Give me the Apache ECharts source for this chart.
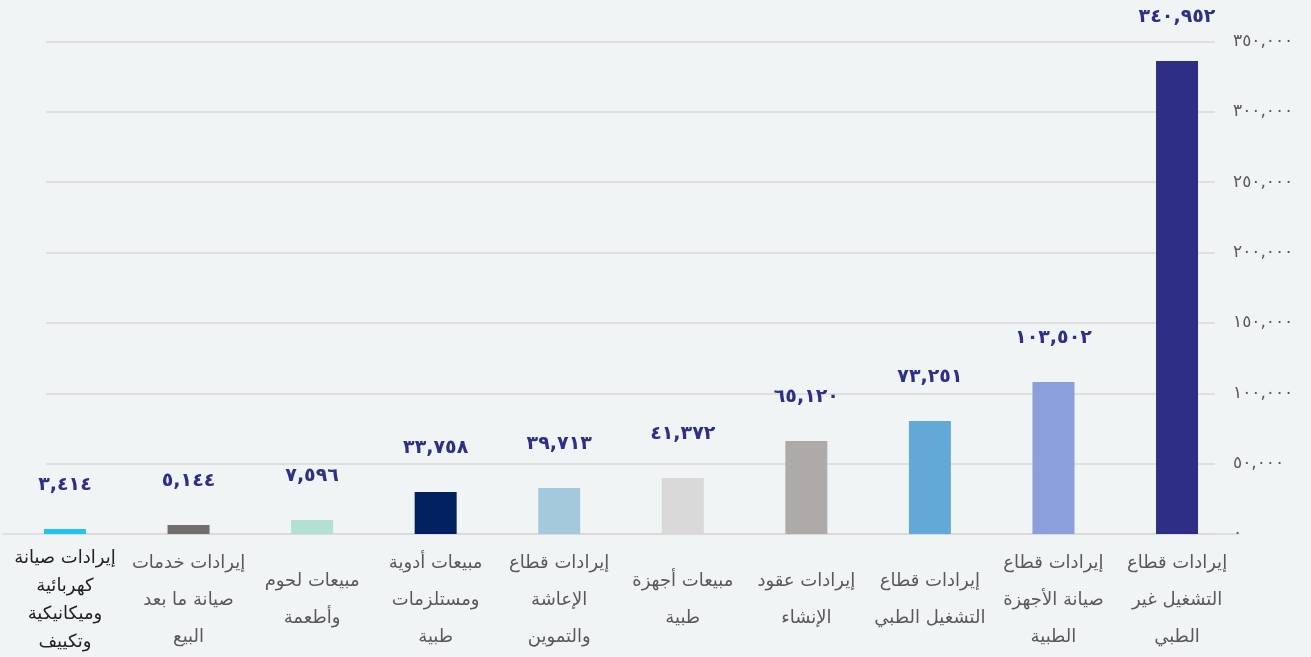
<!DOCTYPE html>
<html lang="ar">
<head>
<meta charset="utf-8">
<script src="https://cdn.jsdelivr.net/npm/echarts@6/dist/echarts.min.js"></script>
<style>
html, body { margin: 0; padding: 0; background: #f1f4f5; }
#chart { width: 1311px; height: 657px; }
</style>
</head>
<body>
<div id="chart"></div>
<script>
// categories, left to right
const categories = [
    'إيرادات صيانة\nكهربائية\nوميكانيكية\nوتكييف',
    'إيرادات خدمات\nصيانة ما بعد\nالبيع',
    'مبيعات لحوم\nوأطعمة',
    'مبيعات أدوية\nومستلزمات\nطبية',
    'إيرادات قطاع\nالإعاشة\nوالتموين',
    'مبيعات أجهزة\nطبية',
    'إيرادات عقود\nالإنشاء',
    'إيرادات قطاع\nالتشغيل الطبي',
    'إيرادات قطاع\nصيانة الأجهزة\nالطبية',
    'إيرادات قطاع\nالتشغيل غير\nالطبي'
];
// bar heights as drawn
const barValues = [3550, 6400, 9950, 29850, 32700, 39800, 66100, 80300, 108000, 336200];
// numbers printed above the bars
const labelValues = [3414, 5144, 7596, 33758, 39713, 41372, 65120, 73251, 103502, 340952];
const yTicks = [0, 50000, 100000, 150000, 200000, 250000, 300000, 350000];

const barColors = ['#22c4f1', '#726e6d', '#b3e0d4', '#00205f', '#a5c9dc',
    '#d9d9d9', '#aeaaaa', '#63a9d7', '#8b9fdc', '#2e2e87'];

const arDigits = '٠١٢٣٤٥٦٧٨٩';
function toArabic(n) {
    return String(n).replace(/\B(?=(\d{3})+(?!\d))/g, ',')
        .replace(/\d/g, d => arDigits[+d]);
}

const fontFam = "'DejaVu Sans', sans-serif";
const chart = echarts.init(document.getElementById('chart'));

const option = {
    backgroundColor: '#f1f4f5',
    animation: false,
    grid: [
        {left: 46, right: 96, top: 41.5, bottom: 123},
        {left: 3.2, right: 72.2, top: 41.5, bottom: 123}
    ],
    xAxis: [
        {gridIndex: 0, type: 'category', data: categories, show: false},
        {
            gridIndex: 1,
            type: 'category',
            data: categories,
            axisTick: {show: false},
            axisLine: {lineStyle: {color: '#d9d9d9', width: 1.5}},
            axisLabel: {
                interval: 0,
                margin: 66,
                verticalAlign: 'middle',
                formatter: function (v, i) {
                    return i === 0 ? '{first|' + v + '}' : '{rest|' + v + '}';
                },
                rich: {
                    first: {fontFamily: fontFam, fontSize: 18, color: '#222222', lineHeight: 28, align: 'center'},
                    rest: {fontFamily: fontFam, fontSize: 18, color: '#595959', lineHeight: 37, align: 'center'}
                }
            }
        }
    ],
    yAxis: [
        {
            gridIndex: 0,
            type: 'value',
            position: 'right',
            min: 0,
            max: 350000,
            interval: 50000,
            axisLine: {show: false},
            axisTick: {show: false},
            splitLine: {lineStyle: {color: '#d9d9d9', width: 1.5}},
            axisLabel: {
                margin: 18,
                color: '#595959',
                fontFamily: fontFam,
                fontSize: 17,
                formatter: function (v) {
                    const i = yTicks.indexOf(v);
                    return i >= 0 ? toArabic(yTicks[i]) : '';
                }
            }
        },
        {gridIndex: 1, type: 'value', min: 0, max: 350000, interval: 50000, show: false}
    ],
    series: [
        {
            type: 'bar',
            xAxisIndex: 1,
            yAxisIndex: 1,
            barWidth: 42,
            data: barValues,
            itemStyle: {
                color: function (p) { return barColors[p.dataIndex]; }
            },
            label: {
                show: true,
                position: 'top',
                distance: 34,
                color: '#2e3088',
                fontFamily: fontFam,
                fontWeight: 'bold',
                fontSize: 19,
                formatter: function (p) { return toArabic(labelValues[p.dataIndex]); }
            }
        }
    ]
};

chart.setOption(option);
</script>
</body>
</html>
